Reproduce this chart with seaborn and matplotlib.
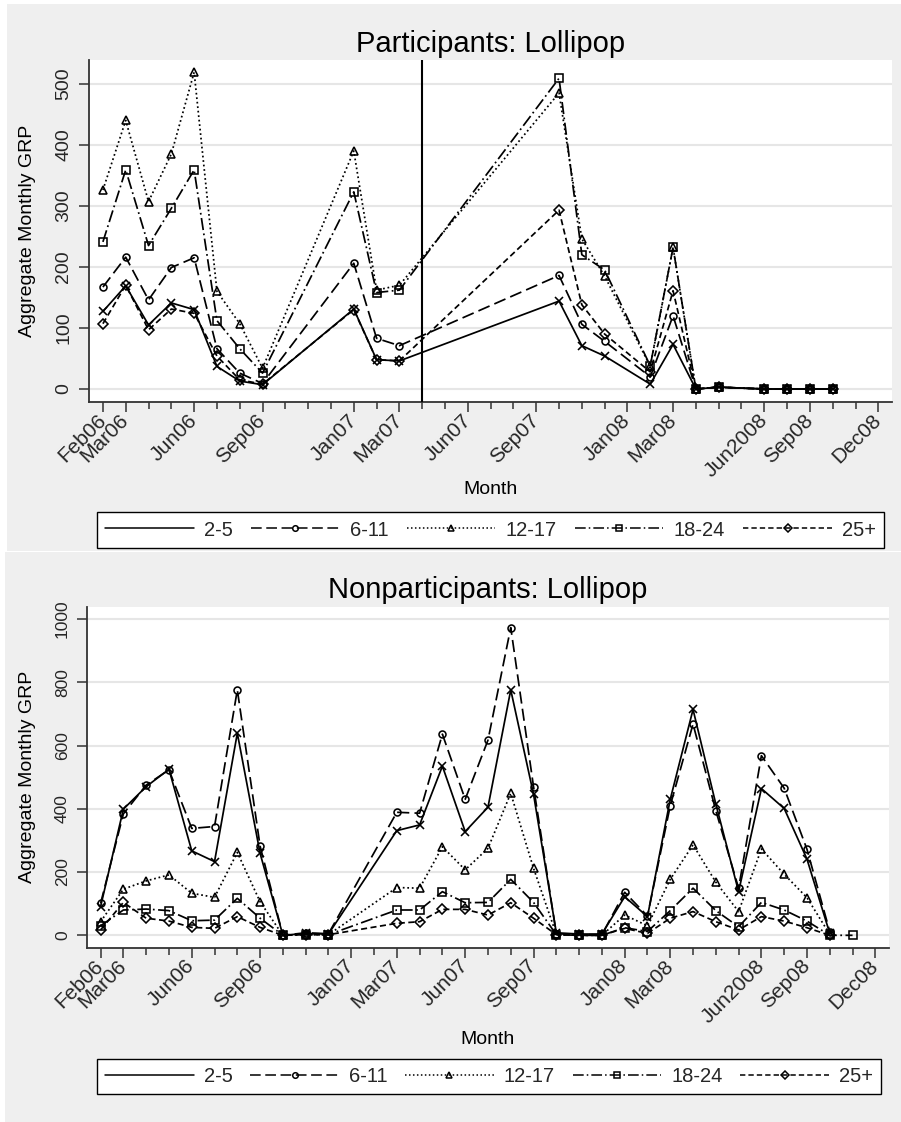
import numpy as np
import pandas as pd
import seaborn as sns
import matplotlib
matplotlib.use("Agg")
import matplotlib.pyplot as plt
from matplotlib.patches import Rectangle
from matplotlib.lines import Line2D
from matplotlib.ticker import FixedLocator

# ---------------- data ----------------
groups = ["2-5", "6-11", "12-17", "18-24", "25+"]

# month index: 0 = Feb06
months_top = [0, 1, 2, 3, 4, 5, 6, 7, 11, 12, 13, 20, 21, 22, 24, 25, 26, 27, 29, 30, 31, 32]
top_2_5   = [127, 169, 105, 141, 130, 37, 13, 7, 131, 48, 46, 144, 71, 54, 8, 73, 0, 3, 0, 0, 0, 0]
top_6_11  = [167, 216, 146, 199, 215, 66, 26, 9, 206, 83, 71, 186, 106, 78, 20, 120, 0, 3, 0, 0, 0, 0]
top_12_17 = [326, 440, 307, 385, 519, 160, 107, 34, 390, 162, 170, 485, 246, 185, 37, 232, 0, 3, 0, 0, 0, 0]
top_18_24 = [241, 359, 235, 296, 359, 112, 66, 26, 323, 158, 162, 509, 220, 195, 38, 232, 0, 3, 0, 0, 0, 0]
top_25p   = [107, 170, 97, 131, 124, 54, 15, 8, 130, 48, 46, 293, 138, 90, 28, 161, 0, 3, 0, 0, 0, 0]

months_bot = [0, 1, 2, 3, 4, 5, 6, 7, 8, 9, 10,
              13, 14, 15, 16, 17, 18, 19, 20, 21, 22, 23, 24, 25, 26, 27, 28, 29, 30, 31, 32, 33]
bot_2_5   = [91, 399, 470, 525, 267, 233, 639, 259, 0, 6, 4,
             331, 349, 535, 328, 405, 776, 446, 8, 4, 4, 122, 59, 430, 714, 415, 138, 464, 401, 241, 6, np.nan]
bot_6_11  = [101, 384, 475, 523, 338, 344, 776, 282, 0, 8, 5,
             389, 386, 636, 430, 617, 973, 470, 5, 2, 2, 136, 61, 410, 668, 394, 149, 568, 465, 272, 12, np.nan]
bot_12_17 = [43, 146, 172, 191, 133, 120, 262, 106, 0, 3, 2,
             151, 149, 280, 207, 275, 449, 212, 3, 0, 0, 64, 30, 177, 286, 168, 75, 273, 193, 119, 3, np.nan]
bot_18_24 = [30, 80, 83, 78, 46, 48, 117, 54, 0, 2, 2,
             80, 80, 138, 103, 104, 177, 104, 2, 0, 0, 24, 12, 78, 149, 78, 27, 104, 80, 45, 0, 0]
bot_25p   = [17, 104, 54, 45, 25, 22, 59, 25, 0, 2, 2,
             38, 43, 82, 82, 64, 103, 54, 2, 0, 0, 22, 6, 54, 75, 43, 17, 59, 45, 24, 0, np.nan]

tick_pos = [0, 1, 4, 7, 11, 13, 16, 19, 23, 25, 29, 31, 34]
tick_lab = ["Feb06", "Mar06", "Jun06", "Sep06", "Jan07", "Mar07", "Jun07", "Sep07",
            "Jan08", "Mar08", "Jun2008", "Sep08", "Dec08"]
vline_month = 14

# ---------------- style ----------------
sns.set_theme(style="white")
plt.rcParams["font.family"] = ["Liberation Sans", "DejaVu Sans"]
regular = ["Liberation Sans", "DejaVu Sans"]
narrow = ["Liberation Sans Narrow", "Liberation Sans", "DejaVu Sans"]

styles = {
    "2-5":   dict(linestyle="-", marker="x"),
    "6-11":  dict(linestyle=(0, (7, 3)), marker="o"),
    "12-17": dict(linestyle=(0, (1, 1.6)), marker="^"),
    "18-24": dict(linestyle=(0, (7, 2, 1, 2)), marker="s"),
    "25+":   dict(linestyle=(0, (3.5, 2)), marker="D"),
}
msize = {"x": 6, "o": 5, "^": 6, "s": 5.5, "D": 4.6}

W, H = 901, 1122
fig = plt.figure(figsize=(W / 100, H / 100), dpi=100, facecolor="white")
bg = "#efefef"
fig.patches.append(Rectangle((7 / W, 1 - 551 / H), 1 - 7 / W, (551 - 4) / H,
                             transform=fig.transFigure, facecolor=bg, edgecolor="none", zorder=-5))
fig.patches.append(Rectangle((5 / W, 0), 1 - 5 / W, 1 - 552 / H,
                             transform=fig.transFigure, facecolor=bg, edgecolor="none", zorder=-5))


def make_axes(l, r, t, b):
    return fig.add_axes([l / W, 1 - b / H, (r - l) / W, (b - t) / H])


def draw_panel(ax, months, series, title, ylim, yticks, ytick_font, ylab_x, month_y, vline=None):
    ax.set_facecolor("white")
    for g, vals in zip(groups, series):
        df = pd.DataFrame({"month": months, "grp": vals}).dropna()
        st = styles[g]
        sns.lineplot(data=df, x="month", y="grp", ax=ax, color="black", linewidth=1.25,
                     linestyle=st["linestyle"], marker=st["marker"], markersize=msize[st["marker"]],
                     markerfacecolor="none", markeredgecolor="black", markeredgewidth=1.15,
                     errorbar=None, sort=True, legend=False, zorder=3)
    if vline is not None:
        ax.axvline(vline, color="black", linewidth=1.5, zorder=4)
    ax.set_xlim(-0.61, 34.6)
    ax.set_ylim(*ylim)
    ax.set_yticks(yticks)
    ax.set_yticklabels([str(v) for v in yticks], rotation=90, va="center", **ytick_font)
    ax.grid(axis="y", color="#e6e6e6", linewidth=1.5, zorder=0)
    ax.grid(axis="x", visible=False)
    ax.set_axisbelow(True)
    ax.xaxis.set_major_locator(FixedLocator(tick_pos))
    ax.xaxis.set_minor_locator(FixedLocator([m for m in range(35) if m not in tick_pos]))
    ax.set_xticklabels(tick_lab, rotation=45, ha="right", va="center",
                       rotation_mode="anchor", fontsize=15, family=narrow)
    ax.tick_params(axis="x", which="major", length=7, width=1.1, color="#333333",
                   direction="out", bottom=True, pad=4)
    ax.tick_params(axis="x", which="minor", length=5, width=1.1, color="#333333",
                   direction="out", bottom=True)
    ax.tick_params(axis="y", which="major", length=7, width=1.1, color="#333333",
                   direction="out", left=True, pad=5)
    for s in ["top", "right"]:
        ax.spines[s].set_visible(False)
    for s in ["left", "bottom"]:
        ax.spines[s].set_color("#333333")
        ax.spines[s].set_linewidth(1.3)
    ax.set_title(title, fontsize=21, pad=6, color="black")
    ax.set_ylabel("Aggregate Monthly GRP", fontsize=14, color="black")
    ax.yaxis.set_label_coords(ylab_x, 0.5)
    ax.yaxis.label.set_va("center")
    ax.set_xlabel("Month", fontsize=14, color="black", family=narrow)
    ax.xaxis.set_label_coords(0.5, month_y)
    ax.xaxis.label.set_va("center")


ax1 = make_axes(89, 892, 60, 402)
draw_panel(ax1, months_top, [top_2_5, top_6_11, top_12_17, top_18_24, top_25p],
           "Participants: Lollipop", (-21.3, 539), [0, 100, 200, 300, 400, 500],
           dict(fontsize=14, family=regular),
           (27.5 - 89) / 803, (402 - 490) / 342, vline=vline_month)

ax2 = make_axes(86.7, 889, 606.7, 947.7)
draw_panel(ax2, months_bot, [bot_2_5, bot_6_11, bot_12_17, bot_18_24, bot_25p],
           "Nonparticipants: Lollipop", (-39.2, 1039), [0, 200, 400, 600, 800, 1000],
           dict(fontsize=12.5, family=narrow),
           (27.5 - 86.7) / 802.3, (947.7 - 1040) / 341)


def legend_handles():
    hs = []
    for g in groups:
        st = styles[g]
        mk = None if g == "2-5" else st["marker"]
        hs.append(Line2D([], [], color="black", linewidth=1.1, linestyle=st["linestyle"],
                         marker=mk, markersize=4, markerfacecolor="none",
                         markeredgecolor="black", markeredgewidth=1.1))
    return hs


for (l, r, t, b) in [(97, 884, 512, 548), (97, 881, 1058, 1095)]:
    leg = fig.legend(legend_handles(), groups, loc="center",
                     bbox_to_anchor=(l / W, 1 - b / H, (r - l) / W, (b - t) / H),
                     mode="expand", ncol=5, frameon=True, fancybox=False, shadow=False,
                     edgecolor="black", facecolor="white", framealpha=1,
                     handlelength=4.4, handletextpad=0.5, borderaxespad=0, borderpad=0.4,
                     prop={"family": regular, "size": 14.5})
    leg.get_frame().set_linewidth(1.0)

fig.savefig("out.png", dpi=100, facecolor=fig.get_facecolor())
